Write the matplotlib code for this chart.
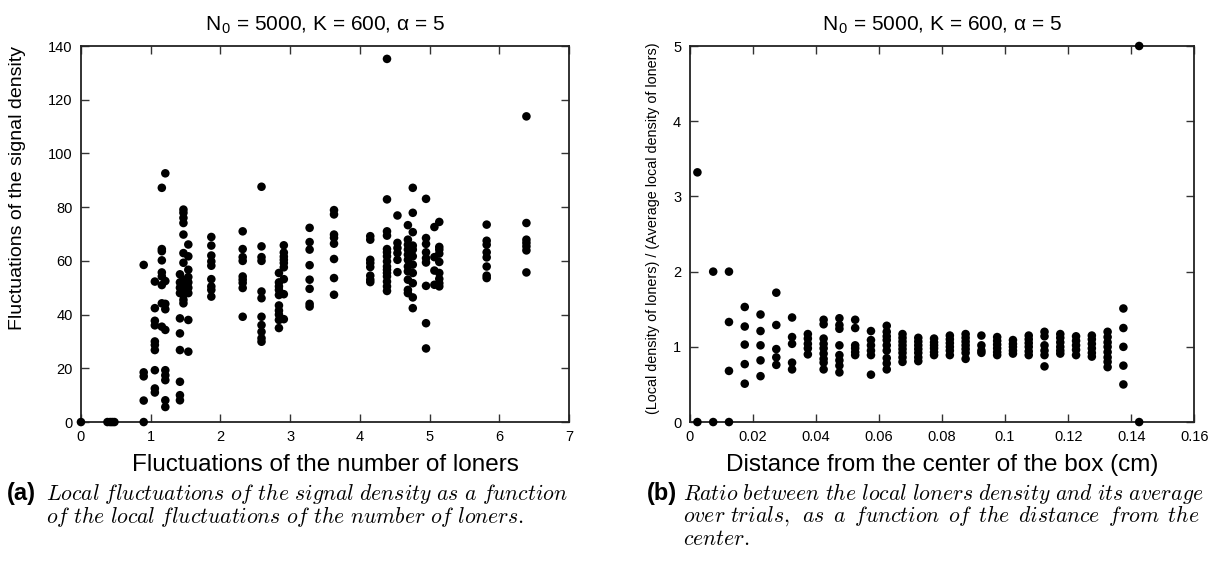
import matplotlib
matplotlib.use("Agg")
import matplotlib.pyplot as plt

plt.rcParams['font.family'] = ['Liberation Sans', 'DejaVu Sans']
plt.rcParams['mathtext.fontset'] = 'cm'

# left panel: x position of each column of points, and the y values in it
left_x = [0.0, 0.38, 0.42, 0.45, 0.48, 0.90, 1.06, 1.16, 1.21, 1.42, 1.47, 1.54,
          1.87, 2.32, 2.59, 2.84, 2.91, 3.28, 3.63, 4.15, 4.39, 4.54, 4.69, 4.76,
          4.95, 5.07, 5.14, 5.82, 6.39]
left_y = [
    [0], [0], [0], [0], [0],
    [0, 8, 17, 18.5, 58.5],
    [11, 12.5, 19.3, 26.8, 28.7, 30, 36, 37.7, 42.4, 52.3],
    [35.5, 44.2, 51, 54.2, 55.7, 60.2, 63.6, 64.4, 87.2],
    [5.6, 8.1, 15.6, 17.4, 19.3, 34.3, 42, 44, 52.5, 92.6],
    [8.1, 10, 15, 26.8, 33, 38.6, 48, 50, 52, 55],
    [44.2, 45.5, 47.3, 49, 51, 53, 59.3, 62.9, 69.8, 74.1, 76, 77.9, 79.1],
    [26.2, 38, 48, 50, 52, 54, 56.7, 61.7, 66.1],
    [46.7, 49.2, 50.5, 53.2, 58.2, 59.8, 62, 65.7, 68.9],
    [39.2, 49.9, 51.8, 53, 54.2, 60, 61.4, 64.4, 71],
    [29.9, 31.2, 33.6, 36.1, 39.2, 46.1, 48.6, 60, 61.4, 65.4, 87.6],
    [35, 38, 40, 41.5, 43.4, 47.3, 49.2, 50.5, 52, 55.5],
    [38.3, 47.6, 53.2, 57.6, 59.2, 60.4, 61.6, 63.1, 65.8],
    [43, 44, 49.6, 53, 58.4, 64.2, 67, 72.3],
    [47.4, 53.6, 60.7, 66.4, 68.6, 69.8, 77.3, 78.9],
    [52.1, 53, 54.5, 57.7, 59.2, 60.4, 67.9, 69.2],
    [48.8, 50.5, 52.3, 54.2, 55.5, 56.7, 57.9, 59.8, 61.7, 63.2, 64.4, 69.4, 71, 82.9, 135.2],
    [55.8, 60.4, 62.9, 64.8, 66.7, 76.9],
    [48, 49.2, 53, 56.1, 57.9, 60.4, 62.3, 64.2, 66, 67.9, 73.3],
    [42.4, 46.4, 51.7, 55.5, 58.6, 61.7, 64.2, 65.7, 70.7, 77.9, 87.2],
    [27.4, 36.8, 50.7, 59.4, 61, 63.2, 66.3, 68.5, 83.1],
    [51.1, 56.4, 61.4, 72.6],
    [50.5, 51.7, 53.3, 55.5, 59.6, 62.7, 64.2, 65.2, 74.5],
    [53.6, 54.5, 57.9, 61.3, 63.2, 66, 67.5, 73.5],
    [55.7, 63.9, 65.4, 66.7, 67.9, 74.1, 113.8],
]

# right panel: distance bins and the density ratios found in each
right_x = [0.0025, 0.0075, 0.0125, 0.0175, 0.0225, 0.0275, 0.0325, 0.0375, 0.0425,
           0.0475, 0.0525, 0.0575, 0.0625, 0.0675, 0.0725, 0.0775, 0.0825, 0.0875,
           0.0925, 0.0975, 0.1025, 0.1075, 0.1125, 0.1175, 0.1225, 0.1275, 0.1325,
           0.1375, 0.1425]
right_y = [
    [0, 3.32],
    [0, 2.0],
    [0, 0.68, 1.33, 2.0],
    [0.51, 0.77, 1.03, 1.27, 1.53],
    [0.61, 0.82, 1.02, 1.21, 1.43],
    [0.76, 0.86, 0.97, 1.29, 1.72],
    [0.70, 0.79, 1.04, 1.13, 1.39],
    [0.90, 0.98, 1.04, 1.11, 1.17],
    [0.70, 0.79, 0.84, 0.91, 0.98, 1.04, 1.11, 1.30, 1.36],
    [0.66, 0.75, 0.82, 0.89, 1.02, 1.24, 1.29, 1.38],
    [0.89, 0.93, 0.98, 1.02, 1.25, 1.36],
    [0.63, 0.89, 0.95, 1.02, 1.09, 1.21],
    [0.70, 0.78, 0.85, 0.95, 1.02, 1.09, 1.14, 1.20, 1.28],
    [0.80, 0.86, 0.92, 0.97, 1.02, 1.07, 1.12, 1.17],
    [0.81, 0.86, 0.92, 0.97, 1.02, 1.07, 1.12],
    [0.89, 0.93, 0.98, 1.02, 1.06, 1.11],
    [0.89, 0.95, 1.0, 1.05, 1.10, 1.15],
    [0.84, 0.92, 0.97, 1.02, 1.07, 1.12, 1.17],
    [0.92, 0.95, 1.02, 1.15],
    [0.89, 0.93, 0.98, 1.03, 1.08, 1.13],
    [0.91, 0.95, 1.0, 1.04, 1.09],
    [0.89, 0.94, 1.0, 1.05, 1.10, 1.15],
    [0.74, 0.89, 0.95, 1.02, 1.14, 1.20],
    [0.91, 0.95, 1.0, 1.06, 1.12, 1.17],
    [0.89, 0.96, 1.02, 1.08, 1.14],
    [0.87, 0.92, 0.98, 1.04, 1.10, 1.15],
    [0.73, 0.80, 0.86, 0.93, 1.0, 1.06, 1.13, 1.2],
    [0.5, 0.75, 1.0, 1.25, 1.51],
    [0, 5],
]

left_xticks = [0, 1, 2, 3, 4, 5, 6, 7]
left_yticks = [0, 20, 40, 60, 80, 100, 120, 140]
right_xticks = [0, 0.02, 0.04, 0.06, 0.08, 0.1, 0.12, 0.14, 0.16]
right_xlabels = ['0', '0.02', '0.04', '0.06', '0.08', '0.1', '0.12', '0.14', '0.16']
right_yticks = [0, 1, 2, 3, 4, 5]

title = r'N$_\mathregular{0}$ = 5000, K = 600, α = 5'


def flatten(xs, ys):
    px, py = [], []
    for x, col in zip(xs, ys):
        for y in col:
            px.append(x)
            py.append(y)
    return px, py


def style(ax):
    for s in ax.spines.values():
        s.set_linewidth(1.3)
        s.set_color('#222222')
    ax.tick_params(direction='in', top=True, right=True, length=6, width=1,
                   labelsize=10.5, color='#333333', pad=6)


fig = plt.figure(figsize=(12.23, 5.75), dpi=100)
ax1 = fig.add_axes([0.0662, 0.266, 0.399, 0.654])
ax2 = fig.add_axes([0.5638, 0.266, 0.4128, 0.654])

x, y = flatten(left_x, left_y)
ax1.scatter(x, y, s=38, c='black', edgecolors='none', clip_on=False, zorder=3)
ax1.set_xlim(0, 7)
ax1.set_ylim(0, 140)
ax1.set_xticks(left_xticks)
ax1.set_yticks(left_yticks)
ax1.set_title(title, fontsize=15, pad=11)
ax1.set_xlabel('Fluctuations of the number of loners', fontsize=17.5, labelpad=7)
ax1.set_ylabel('Fluctuations of the signal density', fontsize=14)
ax1.yaxis.set_label_coords(-0.113, 0.623)
style(ax1)

x, y = flatten(right_x, right_y)
ax2.scatter(x, y, s=38, c='black', edgecolors='none', clip_on=False, zorder=3)
ax2.set_xlim(0, 0.16)
ax2.set_ylim(0, 5)
ax2.set_xticks(right_xticks)
ax2.set_xticklabels(right_xlabels)
ax2.set_yticks(right_yticks)
ax2.set_title(title, fontsize=15, pad=11)
ax2.set_xlabel('Distance from the center of the box (cm)', fontsize=17.5, labelpad=7)
ax2.set_ylabel('(Local density of loners) / (Average local density of loners)',
               fontsize=10.4)
ax2.yaxis.set_label_coords(-0.058, 0.516)
style(ax2)

# captions under each panel
cap = 15.6
rows = [0.1426, 0.1026, 0.0626]
fig.text(0.006, rows[0], '(a)', fontsize=17, fontweight='bold', va='center')
fig.text(0.0375, rows[0], r'$\mathit{Local\ fluctuations\ of\ the\ signal\ density\ as\ a\ function}$',
         fontsize=cap, va='center')
fig.text(0.0375, rows[1], r'$\mathit{of\ the\ local\ fluctuations\ of\ the\ number\ of\ loners.}$',
         fontsize=cap, va='center')
fig.text(0.529, rows[0], '(b)', fontsize=17, fontweight='bold', va='center')
fig.text(0.5585, rows[0], r'$\mathit{Ratio\ between\ the\ local\ loners\ density\ and\ its\ average}$',
         fontsize=cap, va='center')
fig.text(0.5585, rows[1], r'$\mathit{over\ trials,\ \,as\ \,a\ \,function\ \,of\ \,the\ \,distance\ \,from\ \,the}$',
         fontsize=cap, va='center')
fig.text(0.5585, rows[2], r'$\mathit{center.}$', fontsize=cap, va='center')

fig.savefig('out.png', dpi=100)
